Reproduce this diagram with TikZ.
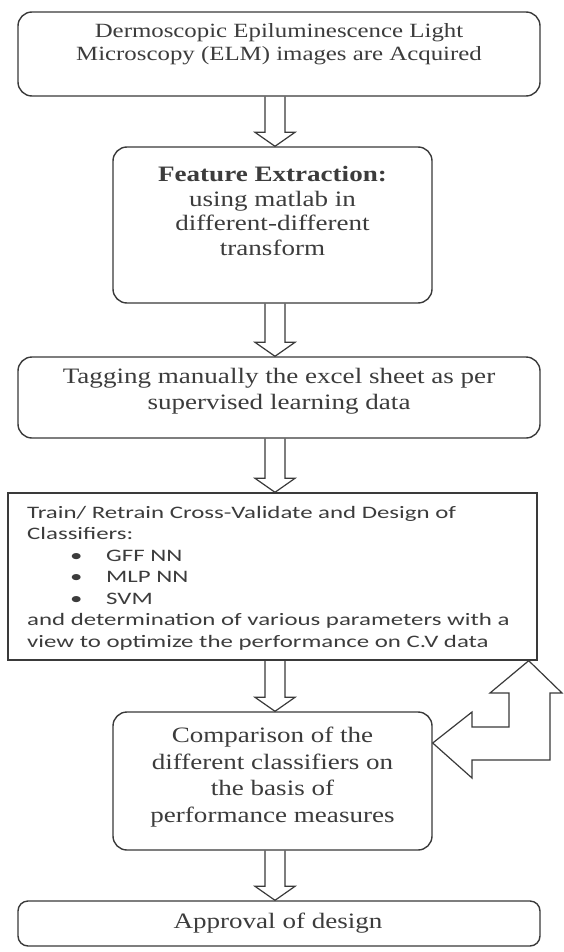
\documentclass[tikz,border=0pt]{standalone}
\usepackage{fontspec}
\setmainfont{Liberation Serif}[FakeStretch=1.23]
\newfontfamily\sansf{Carlito}[FakeStretch=1.42]
\usetikzlibrary{calc}
\definecolor{ln}{HTML}{3A3A3A}
\definecolor{tx}{HTML}{3C3C3C}
\newcommand{\downblk}[2]{%
  \draw[barrow] let \p1=(#1.south -| ax), \p2=(#2.north -| ax) in
    (\x1-10pt,\y1) -- (\x1-10pt,\y2+14pt) -- (\x1-20pt,\y2+14pt) -- (\x2,\y2)
    -- (\x1+20pt,\y2+14pt) -- (\x1+10pt,\y2+14pt) -- (\x1+10pt,\y1);}
\begin{document}
\begin{tikzpicture}[x=1pt,y=-1pt,
  box/.style={draw=ln, line width=1.4pt, rounded corners=14pt, inner sep=0pt},
  sqbox/.style={draw=ln, line width=1.4pt, inner sep=0pt},
  stxt/.style={text=tx, font=\fontsize{22}{26.5}\selectfont, align=center, inner sep=0pt},
  htxt/.style={text=tx, font=\fontsize{20.2}{22.5}\selectfont, align=center, inner sep=0pt},
  ftxt/.style={text=tx, font=\fontsize{22}{24.5}\selectfont, align=center, inner sep=0pt},
  ctxt/.style={text=tx, font=\sansf\fontsize{17.5}{21.5}\selectfont, align=left, inner sep=0pt},
  barrow/.style={draw=ln, line width=1.2pt, line join=miter}]
\useasboundingbox (0,0) rectangle (564,952);
\fill[white] (0,0) rectangle (564,952);
\coordinate (ax) at (275,0);
% boxes
\node[box, minimum width=522pt, minimum height=84pt] (b1) at (279,54) {};
\node[box, minimum width=319pt, minimum height=156pt] (b2) at (272.5,225) {};
\node[box, minimum width=522pt, minimum height=81pt] (b3) at (279,397.5) {};
\node[sqbox, minimum width=529pt, minimum height=167pt] (b4) at (272.5,576.5) {};
\node[box, minimum width=319pt, minimum height=138pt] (b5) at (272.5,781) {};
\node[box, rounded corners=10pt, minimum width=522pt, minimum height=45pt] (b6) at (279,923.5) {};
% texts
\node[htxt] (t1) at (279,44) {Dermoscopic Epiluminescence Light\\Microscopy (ELM) images are Acquired};
\node[ftxt] (t2) at (272.5,211) {\textbf{Feature Extraction:}\\using matlab in\\different-different\\transform};
\node[stxt] (t3) at (279,391) {Tagging manually the excel sheet as per\\supervised learning data};
\node[ctxt, anchor=north west] (t4) at (27,506) {Train/ Retrain Cross-Validate and Design of\\Classifiers:\\
\hspace*{43pt}\makebox[36pt][l]{•}GFF NN\\
\hspace*{43pt}\makebox[36pt][l]{•}MLP NN\\
\hspace*{43pt}\makebox[36pt][l]{•}SVM\\
and determination of various parameters with a\\view to optimize the performance on C.V data};
\node[stxt] (t5) at (272.5,777) {Comparison of the\\different classifiers on\\the basis of\\performance measures};
\node[stxt] (t6) at (278,923) {Approval of design};
% down arrows
\downblk{b1}{b2}
\downblk{b2}{b3}
\downblk{b3}{b4}
\downblk{b4}{b5}
\downblk{b5}{b6}
% feedback bent arrow
\coordinate (fu) at ($(b4.south east)+(-9,0)$);
\coordinate (fl) at ($(b5.east)+(0,-38)$);
\draw[barrow, fill=white] (fu) -- (562,693) -- (550,693) -- (550,760) -- (472,760) -- (472,778)
  -- (fl) -- (472,712) -- (472,727) -- (509,727) -- (509,693) -- (490,693) -- cycle;
\end{tikzpicture}
\end{document}
